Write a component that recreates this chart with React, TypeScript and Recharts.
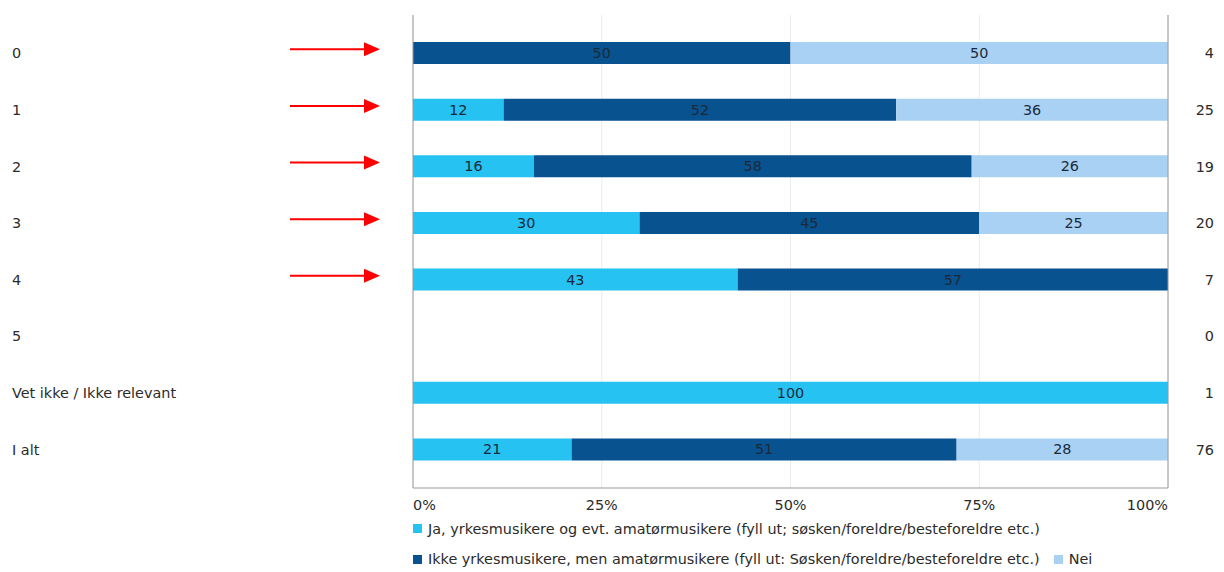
import { BarChart, Bar, XAxis, YAxis, CartesianGrid, LabelList } from 'recharts'

// kategorier og fordeling i prosent
const categories = ['0', '1', '2', '3', '4', '5', 'Vet ikke / Ikke relevant', 'I alt']
const jaValues = [0, 12, 16, 30, 43, 0, 100, 21]
const ikkeValues = [50, 52, 58, 45, 57, 0, 0, 51]
const neiValues = [50, 36, 26, 25, 0, 0, 0, 28]
const antall = [4, 25, 19, 20, 7, 0, 1, 76]
const percentTicks = [0, 25, 50, 75, 100]
// rader markert med rød pil
const markerte = ['0', '1', '2', '3', '4']

const seriesNames = {
  ja: 'Ja, yrkesmusikere og evt. amatørmusikere (fyll ut; søsken/foreldre/besteforeldre etc.)',
  ikke: 'Ikke yrkesmusikere, men amatørmusikere (fyll ut: Søsken/foreldre/besteforeldre etc.)',
  nei: 'Nei',
}

const colors = { ja: '#25c2f2', ikke: '#08528f', nei: '#a9d1f4' }

const FONT = '"DejaVu Sans", Verdana, sans-serif'
const FS = 14.4
const TEXT = '#2b2b2b'

const data = categories.map((cat, i) => ({
  cat,
  ja: jaValues[i],
  ikke: ikkeValues[i],
  nei: neiValues[i],
  n: antall[i],
}))

const hideZero = (v: any) => (Number(v) > 0 ? v : '')

function LeftTick(props: any) {
  const { y, payload } = props
  const arrow = markerte.includes(payload.value)
  return (
    <g>
      <text x={12} y={y} dy={5} fontSize={FS} fontFamily={FONT} fill={TEXT}>
        {payload.value}
      </text>
      {arrow && (
        <g>
          <line x1={290} y1={y - 4} x2={366} y2={y - 4} stroke="#ff0000" strokeWidth={2} />
          <polygon points={`${364},${y - 11} ${380},${y - 4} ${364},${y + 3}`} fill="#ff0000" />
        </g>
      )}
    </g>
  )
}

function RightTick(props: any) {
  const { x, y, index } = props
  return (
    <text x={x + 38} y={y} dy={5} textAnchor="end" fontSize={FS} fontFamily={FONT} fill={TEXT}>
      {antall[index]}
    </text>
  )
}

function PercentTick(props: any) {
  const { x, y, payload } = props
  const v = payload.value
  const anchor = v === 0 ? 'start' : v === 100 ? 'end' : 'middle'
  return (
    <text x={x} y={y} dy={22} textAnchor={anchor} fontSize={FS} fontFamily={FONT} fill={TEXT}>
      {`${v}%`}
    </text>
  )
}

function LegendItem({ color, label }: { color: string; label: string }) {
  return (
    <span style={{ display: 'inline-flex', alignItems: 'center', marginRight: 14 }}>
      <span style={{ width: 9, height: 9, background: color, display: 'inline-block', marginRight: 6 }} />
      {label}
    </span>
  )
}

export default function App() {
  return (
    <div style={{ position: 'absolute', left: 0, top: 0, width: 1224, height: 572, background: '#fff' }}>
      <BarChart
        width={1224}
        height={572}
        data={data}
        layout="vertical"
        margin={{ top: 15, right: 0, left: 0, bottom: 0 }}
      >
        <CartesianGrid horizontal={false} stroke="#ececec" />
        <XAxis
          type="number"
          domain={[0, 100]}
          ticks={percentTicks}
          tick={<PercentTick />}
          tickLine={false}
          tickSize={0}
          tickMargin={0}
          axisLine={{ stroke: '#9a9a9a' }}
          height={84}
        />
        <XAxis
          xAxisId="top"
          type="number"
          orientation="top"
          domain={[0, 100]}
          tick={false}
          tickLine={false}
          axisLine={{ stroke: '#9a9a9a' }}
          height={0}
        />
        <YAxis
          yAxisId="left"
          type="category"
          dataKey="cat"
          width={413}
          tick={<LeftTick />}
          tickLine={false}
          axisLine={{ stroke: '#9a9a9a' }}
          padding={{ top: 10, bottom: 10 }}
          interval={0}
        />
        <YAxis
          yAxisId="right"
          orientation="right"
          type="category"
          dataKey="cat"
          width={56}
          tick={<RightTick />}
          tickLine={false}
          axisLine={{ stroke: '#9a9a9a' }}
          padding={{ top: 10, bottom: 10 }}
          interval={0}
        />
        {(['ja', 'ikke', 'nei'] as const).map((key) => (
          <Bar
            key={key}
            yAxisId="left"
            dataKey={key}
            stackId="a"
            fill={colors[key]}
            barSize={22}
            name={seriesNames[key]}
            isAnimationActive={false}
          >
            <LabelList
              dataKey={key}
              position="center"
              formatter={hideZero}
              style={{ fontSize: FS, fontFamily: FONT, fill: '#1b2a3a' }}
            />
          </Bar>
        ))}
      </BarChart>
      <div
        style={{
          position: 'absolute',
          left: 413,
          top: 513,
          fontFamily: FONT,
          fontSize: FS,
          color: TEXT,
          lineHeight: '30px',
        }}
      >
        <div>
          <LegendItem color={colors.ja} label={seriesNames.ja} />
        </div>
        <div>
          <LegendItem color={colors.ikke} label={seriesNames.ikke} />
          <LegendItem color={colors.nei} label={seriesNames.nei} />
        </div>
      </div>
    </div>
  )
}
